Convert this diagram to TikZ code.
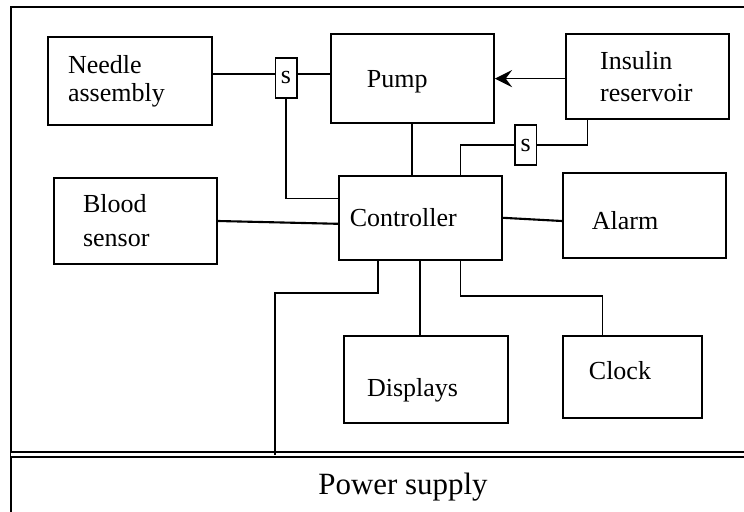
\documentclass[tikz,border=0pt]{standalone}
\usepackage{fontspec}
\setmainfont{Liberation Serif}
\usetikzlibrary{arrows.meta}
\newcommand\boxfont{\fontsize{18.5pt}{19.9pt}\selectfont}
\newcommand\busfont{\fontsize{22pt}{26pt}\selectfont}

\begin{document}
\begin{tikzpicture}[
    unit/.style={draw, line width=1.3pt, minimum height=2.15cm, align=left, font=\boxfont},
    sw/.style={draw, line width=1pt, minimum width=0.54cm, minimum height=1cm, inner sep=0pt, font=\boxfont},
    link/.style={line width=1.5pt},
    wire/.style={line width=0.95pt},
    feed/.style={-{Stealth[length=4.3mm, width=4.3mm, inset=1.6mm]}, line width=1.1pt},
    frame/.style={line width=1.3pt}
]
\useasboundingbox (0,0) rectangle (18.6,12.775);
\draw[frame] (0.275,-0.1) |- (18.7,12.6);
\coordinate (busL) at (0.275,1.4125);
\coordinate (busR) at (18.7,1.4125);
\draw[frame, double, double distance=2.4pt] (busL) -- (busR);
\node[font=\busfont] (power) at (10.075,0.6) {Power supply};
\node[unit, inner xsep=0.5cm, text width=3.1cm, minimum height=2.2cm] (needle) at (3.25,10.75) {Needle\\assembly};
\node[unit, inner xsep=0.9cm, text width=2.28cm, minimum height=2.22cm, text height=0.6cm] (pump) at (10.31,10.81) {Pump};
\node[unit, inner xsep=0.85cm, text width=2.375cm, minimum height=2.12cm] (insulin) at (16.19,10.86) {Insulin\\[0.1cm]reservoir};
\node[unit, inner xsep=0.725cm, text width=2.63cm] (blood) at (3.39,7.25) {Blood\\[0.15cm]sensor};
\node[unit, inner xsep=0.275cm, text width=3.53cm, minimum height=2.1cm] (ctrl) at (10.51,7.33) {Controller};
\node[unit, inner xsep=0.725cm, text width=2.63cm, minimum height=2.12cm, text height=0.7cm] (alarm) at (16.11,7.39) {Alarm};
\node[unit, inner xsep=0.575cm, text width=2.95cm, minimum height=2.17cm, text height=1cm] (displays) at (10.65,3.29) {Displays};
\node[unit, inner xsep=0.65cm, text width=2.175cm, minimum height=2.05cm, text depth=0.35cm] (clock) at (15.81,3.35) {Clock};
\node[sw] (s1) at (7.15,10.83) {s};
\node[sw] (s2) at (13.14,9.15) {s};
\draw[link] ([yshift=0.1cm]s1.west -| needle.east) -- ([yshift=0.1cm]s1.west);
\draw[link] ([yshift=0.1cm]s1.east) -- ([yshift=0.1cm]s1.east -| pump.west);
\draw[wire] (s1.south) |- ([yshift=0.475cm]ctrl.west);
\draw[feed] (insulin.west |- pump.east) -- (pump.east);
\draw[link] (pump.south) -- (pump.south |- ctrl.north);
\draw[wire] ([xshift=-1.51cm]insulin.south) |- (s2.east);
\draw[wire] (s2.west) -| ([xshift=1.01cm]ctrl.north);
\draw[link] (blood.east) -- ([yshift=-0.15cm]ctrl.west);
\draw[link] (ctrl.east) -- ([yshift=-0.14cm]alarm.west);
\draw[link] (ctrl.south) -- (ctrl.south |- displays.north);
\draw[wire] ([xshift=1.01cm]ctrl.south) -- ++(0,-0.88) -| ([xshift=-0.74cm]clock.north);
\coordinate (pwrturn) at (6.875,5.45);
\draw[wire] ([xshift=-1.06cm]ctrl.south) |- (pwrturn) -- (pwrturn |- busL);
\end{tikzpicture}
\end{document}
